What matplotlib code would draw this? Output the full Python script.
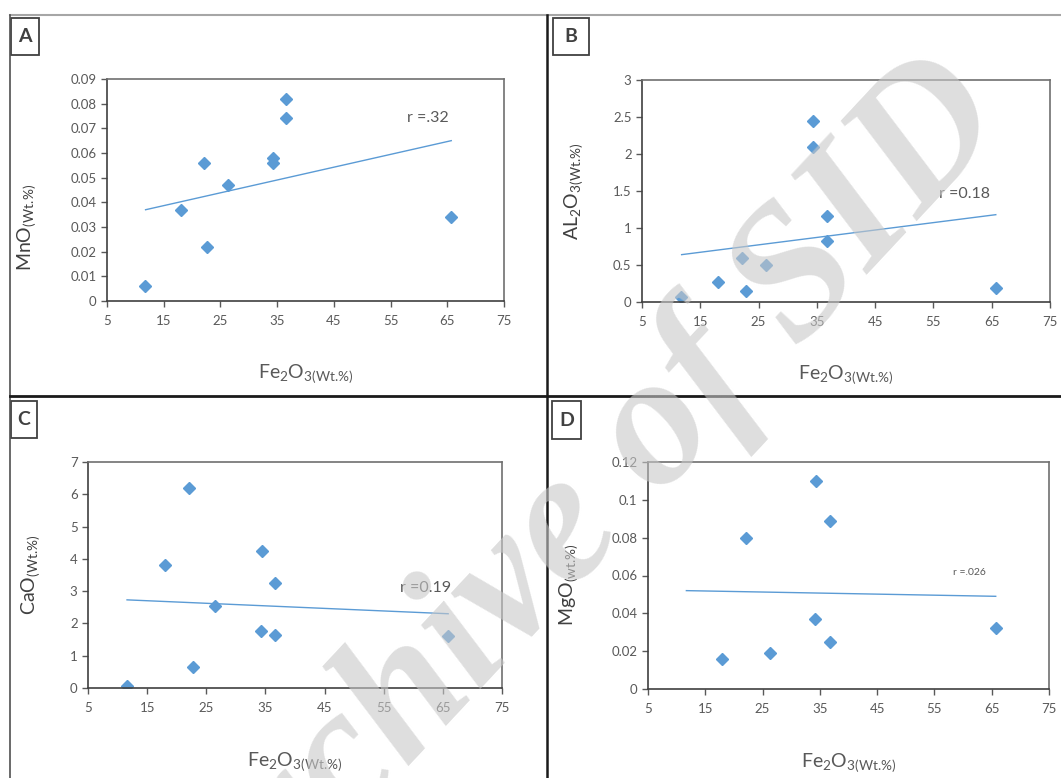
import matplotlib
matplotlib.use("Agg")
import matplotlib.pyplot as plt
from matplotlib.lines import Line2D
from matplotlib.patches import Rectangle

plt.rcParams["font.family"] = ["Lato", "DejaVu Sans"]

W, H = 1061, 778

# Fe2O3 (Wt.%) per panel
fe_a = [11.7, 18.0, 22.1, 22.7, 26.3, 34.3, 34.3, 36.6, 36.6, 65.7]
mno = [0.006, 0.037, 0.056, 0.022, 0.047, 0.058, 0.056, 0.082, 0.074, 0.034]

fe_b = [11.7, 18.1, 22.1, 22.8, 26.3, 34.3, 34.4, 36.7, 36.7, 65.7]
al2o3 = [0.07, 0.27, 0.60, 0.15, 0.50, 2.44, 2.09, 1.16, 0.83, 0.19]

fe_c = [11.6, 18.0, 22.1, 22.7, 26.4, 34.5, 34.3, 36.7, 36.7, 65.9]
cao = [0.07, 3.80, 6.18, 0.65, 2.53, 4.23, 1.77, 3.26, 1.65, 1.62]

fe_d = [18.0, 22.1, 26.3, 34.4, 34.2, 36.7, 36.7, 65.7]
mgo = [0.016, 0.080, 0.019, 0.110, 0.037, 0.089, 0.025, 0.032]

# trend line end points (x, y)
trend_x = [11.8, 65.7]
trend_a = [0.037, 0.065]
trend_b = [0.64, 1.18]
trend_c = [2.73, 2.30]
trend_d = [0.052, 0.049]

x_ticks = [5, 15, 25, 35, 45, 55, 65, 75]

BLUE = "#5b9bd5"
GRAY = "#595959"

fig = plt.figure(figsize=(W / 100, H / 100), dpi=100)


def px_axes(x0, y0, x1, y1):
    return fig.add_axes([x0 / W, 1 - y1 / H, (x1 - x0) / W, (y1 - y0) / H])


def panel(box, x, y, tx, ty, ylim, yticks, ylabel, ylab_pos, r_text, r_pos, r_size, yfmt):
    ax = px_axes(*box)
    ax.plot(tx, ty, color=BLUE, lw=1.0)
    ax.plot(x, y, ls="none", marker="D", ms=6.5, color=BLUE, mec=BLUE)
    ax.set_xlim(5, 75)
    ax.set_ylim(*ylim)
    ax.set_xticks(x_ticks)
    ax.set_yticks(yticks)
    ax.set_yticklabels([yfmt(v) for v in yticks])
    ax.tick_params(direction="out", length=4, width=1, color=GRAY,
                   labelcolor=GRAY, labelsize=9.5)
    ax.tick_params(axis="x", pad=6)
    for s in ["top", "right"]:
        ax.spines[s].set_color("#707070")
        ax.spines[s].set_linewidth(1.2)
    for s in ["left", "bottom"]:
        ax.spines[s].set_color("#404040")
        ax.spines[s].set_linewidth(1.2)
    ax.set_ylabel(ylabel, fontsize=14, color="#404040")
    ax.yaxis.set_label_coords(*ylab_pos)
    ax.set_xlabel(r"$\mathregular{Fe_2O_{3(Wt.\!\%)}}$", fontsize=14, color=GRAY)
    ax.xaxis.set_label_coords(0.5, -0.275)
    ax.text(r_pos[0], r_pos[1], r_text, fontsize=r_size, color=GRAY,
            ha="left", va="center")
    return ax


panel((107, 79, 504, 301), fe_a, mno, trend_x, trend_a, (0, 0.09),
      [0, 0.01, 0.02, 0.03, 0.04, 0.05, 0.06, 0.07, 0.08, 0.09],
      r"$\mathregular{MnO_{(Wt.\!\%)}}$", (-0.175, 0.33), "r =.32", (57.9, 0.074), 11.5,
      lambda v: "0" if v == 0 else f"{v:.2f}")

panel((642, 80, 1050, 302), fe_b, al2o3, trend_x, trend_b, (0, 3),
      [0, 0.5, 1, 1.5, 2, 2.5, 3],
      r"$\mathregular{AL_2O_{3(Wt.\!\%)}}$", (-0.14, 0.5), "r =0.18", (55.9, 1.46), 11.5,
      lambda v: f"{v:g}")

panel((88, 462, 502, 688), fe_c, cao, [11.6, 65.9], trend_c, (0, 7),
      [0, 1, 2, 3, 4, 5, 6, 7],
      r"$\mathregular{CaO_{(Wt.\!\%)}}$", (-0.11, 0.5), "r =0.19", (57.7, 3.11), 11.5,
      lambda v: f"{v:g}")

panel((648, 462, 1049, 689), fe_d, mgo, [11.7, 65.7], trend_d, (0, 0.12),
      [0, 0.02, 0.04, 0.06, 0.08, 0.1, 0.12],
      r"$\mathregular{MgO_{(wt.\!\%)}}$", (-0.17, 0.46), "r =.026", (58.3, 0.0618), 7.5,
      lambda v: f"{v:g}")

# panel frame lines
def fig_line(xs, ys, color, lw):
    fig.add_artist(Line2D([v / W for v in xs], [1 - v / H for v in ys],
                          color=color, lw=lw, transform=fig.transFigure))


fig_line([10, W], [15, 15], "#a6a6a6", 1.5)
fig_line([10, 10], [15, H], "#505050", 1.2)
fig_line([547, 547], [15, H], "#1a1a1a", 1.8)
fig_line([10, W], [396, 396], "#1a1a1a", 2.0)

# panel letters
for letter, (x0, y0, x1, y1) in zip("ABCD", [(11, 18, 39, 55), (553, 18, 589, 55),
                                              (11, 401, 37, 438), (552, 401, 581, 439)]):
    fig.add_artist(Rectangle((x0 / W, 1 - y1 / H), (x1 - x0) / W, (y1 - y0) / H,
                             fill=False, ec="#404040", lw=1.3, transform=fig.transFigure))
    fig.text((x0 + x1) / 2 / W, 1 - (y0 + y1) / 2 / H, letter, fontsize=14,
             fontweight="bold", color="#404040", ha="center", va="center")

# watermark
fig.text(582 / W, 1 - 522 / H, "Archive of SID", fontsize=135, family="Liberation Serif",
         fontweight="bold", style="italic", color="#c8c8c8", alpha=0.6,
         rotation=47, ha="center", va="center", zorder=10)

fig.savefig("out.png", dpi=100)
